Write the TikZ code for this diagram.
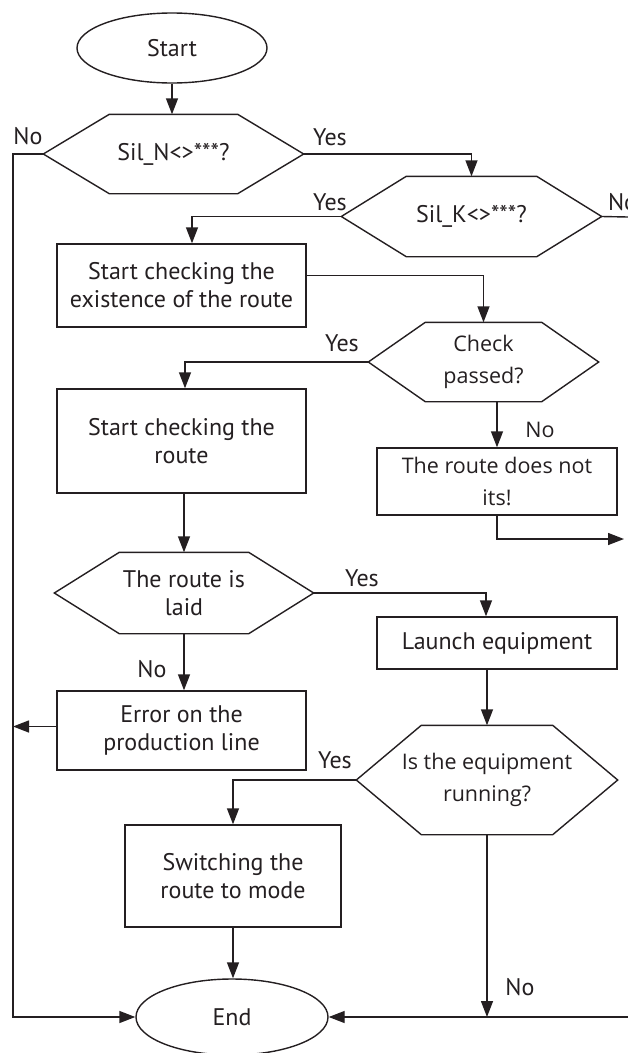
\documentclass[tikz,border=0pt]{standalone}
\usepackage{fontspec}
\setmainfont{PT Sans}
\newfontfamily\opensans{Open Sans}
\usetikzlibrary{shapes.geometric,arrows.meta}

\definecolor{flowline}{rgb}{0.14,0.12,0.13}
\tikzset{
  every node/.style={font=\fontsize{24}{28}\selectfont, text=flowline},
  process/.style={draw=flowline, rectangle, inner sep=0pt, align=center},
  terminal/.style={draw=flowline, ellipse, inner sep=0pt},
  decision/.style={inner sep=0pt, align=center},
  osans/.style={font=\opensans\fontsize{21.5}{32}\selectfont},
  flow/.style={-{Triangle[length=16pt,width=12pt]}},
}
% hexagon drawn round a named decision node: #1 name, #2 slant
\newcommand{\hexa}[2]{%
  \draw (#1.west) -- ([xshift=#2]#1.north west) -- ([xshift=-#2]#1.north east)
    -- (#1.east) -- ([xshift=-#2]#1.south east) -- ([xshift=#2]#1.south west) -- cycle;}

\begin{document}
\begin{tikzpicture}[x=1pt, y=-1pt, line width=1.4pt, draw=flowline]
\useasboundingbox (0,0) rectangle (628,1053);

% blocks
\node[terminal, minimum width=190, minimum height=70] (start) at (172,48) {Start};
\node[decision, minimum width=259, minimum height=78] (silN) at (173.5,154) {Sil\_N<>***?};
\hexa{silN}{66}
\node[decision, minimum width=259, minimum height=79] (silK) at (471.5,216.5) {Sil\_K<>***?};
\hexa{silK}{65}
\node[process, minimum width=249, minimum height=83] (exist) at (181.5,285.5) {Start checking the\\existence of the route};
\node[decision, osans, minimum width=229, minimum height=78] (check) at (483.5,362) {Check\\passed?};
\hexa{check}{57}
\node[process, minimum width=249, minimum height=104] (route) at (181.5,441) {Start checking the\\route};
\node[process, osans, minimum width=240, minimum height=67] (noroute) at (497,481.5) {The route does not\\its!};
\node[decision, minimum width=258, minimum height=80] (laid) at (184,593) {The route is\\laid};
\hexa{laid}{65}
\node[process, minimum width=240, minimum height=52] (launch) at (497,643) {Launch equipment};
\node[process, minimum width=249, minimum height=79] (error) at (181.5,730.5) {Error on the\\production line};
\node[decision, osans, minimum width=260, minimum height=108] (running) at (487,780) {Is the equipment\\running?};
\hexa{running}{65}
\node[process, minimum width=216, minimum height=102] (switch) at (233,876) {Switching the\\route to mode};
\node[terminal, minimum width=192, minimum height=76] (end) at (232,1017) {End};

% free ends
\coordinate (lrail) at (13,154);
\coordinate (outK) at (628,217);
\coordinate (outR) at (624,539);
\coordinate (inR) at (628,1017);

% connectors
\draw[flow] (start.south) -- (start.south |- silN.north);
\draw[flow] (silN.west) -- (lrail) |- (end.west);
\draw[flow] (silN.east) -| (silK.north);
\draw[flow] (silK.west) -| ([xshift=10.5]exist.north);
\draw (silK.east) -- (outK);
\draw[flow] ([yshift=10]exist.east) -| (check.north);
\draw[flow] (check.west) -| ([xshift=3.5]route.north);
\draw[flow] (noroute.north |- check.south) -- (noroute.north);
\draw[flow] (noroute.south) |- (outR);
\draw[flow] (laid.north |- route.south) -- (laid.north);
\draw[flow] (laid.east) -| ([xshift=-11]launch.north);
\draw[flow] (laid.south) -- (laid.south |- error.north);
\draw[flow] ([yshift=4]error.west) -- ([yshift=4]error.west -| lrail);
\draw[flow] (running.north |- launch.south) -- (running.north);
\draw[flow] (running.west) -| (switch.north);
\draw[flow] (switch.south) -- (switch.south |- end.north);
\draw[flow] (running.south) -- (running.south |- end.east);
\draw[flow] (inR) -- (end.east);

% answers
\node (noN) at (28,136) {No};
\node (yesN) at (330,137) {Yes};
\node (yesK) at (330,202) {Yes};
\node[anchor=west] (noK) at (604,202) {No};
\node (yesC) at (342,343) {Yes};
\node[osans] (noC) at (540,430) {No};
\node (yesL) at (362,578) {Yes};
\node (noL) at (152,669) {No};
\node (yesR) at (335,760) {Yes};
\node (noR) at (520,987) {No};
\end{tikzpicture}
\end{document}
